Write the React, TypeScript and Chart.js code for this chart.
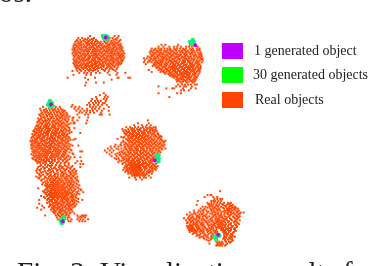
import React, { useEffect, useRef } from "react";
import { Chart, registerables } from "chart.js";

Chart.register(...registerables);

// Each row: [y, x, x, x ...], in picture units
const clusterA = [
  [33, 88, 113, 117], [35, 76, 80, 86, 92, 108, 111, 116],
  [37, 75, 78, 82, 85, 88, 91, 94, 104, 107, 112, 115, 119], [39, 73, 76, 79, 83, 86, 90, 93, 96, 99, 103, 106, 109, 113, 117],
  [41, 72, 75, 77, 81, 84, 87, 90, 92, 95, 98, 101, 105, 108, 110, 113, 116, 119], [43, 71, 74, 77, 79, 82, 85, 88, 91, 94, 97, 100, 103, 106, 108, 111, 114, 117, 120],
  [45, 71, 73, 76, 79, 81, 84, 87, 89, 92, 95, 98, 101, 104, 107, 109, 112, 115, 118, 121], [47, 70, 72, 75, 78, 80, 83, 86, 88, 91, 94, 96, 99, 102, 105, 108, 110, 112, 115, 118, 120],
  [49, 71, 74, 76, 79, 82, 85, 87, 90, 93, 95, 98, 101, 104, 106, 109, 111, 113, 116, 119, 122], [51, 70, 73, 75, 78, 81, 83, 86, 89, 92, 94, 97, 100, 103, 106, 108, 110, 113, 115, 118, 121, 123],
  [53, 71, 73, 76, 79, 82, 84, 87, 90, 92, 95, 98, 101, 104, 107, 109, 111, 114, 117, 119, 122], [55, 72, 75, 77, 80, 83, 86, 88, 91, 94, 96, 99, 102, 105, 108, 110, 112, 115, 118, 120, 123],
  [57, 71, 74, 77, 79, 82, 85, 87, 90, 93, 96, 98, 101, 104, 106, 109, 112, 114, 117, 120, 122], [59, 72, 75, 78, 81, 83, 86, 89, 92, 94, 97, 100, 103, 105, 108, 111, 113, 116, 119, 121],
  [61, 71, 73, 76, 79, 82, 85, 87, 90, 93, 95, 98, 101, 104, 107, 109, 112, 115, 118, 120], [63, 72, 75, 78, 80, 83, 86, 89, 91, 94, 97, 100, 102, 105, 108, 111, 114, 117],
  [65, 73, 76, 79, 82, 84, 87, 90, 93, 96, 99, 102, 106, 109, 113, 116], [67, 74, 77, 81, 85, 88, 92, 95, 100, 104, 108, 111, 115],
  [69, 70, 75, 79, 83, 87, 91, 96, 103, 107, 114], [71, 77, 82, 85, 89, 94, 98, 106, 116, 124], [73, 71, 84, 89, 108, 115],
  [76, 65, 83, 93, 116, 117, 127, 129], [78, 86, 110], [81, 94, 102, 84], [84, 83],
];
const fillA = [
  [36, 83, 90, 106, 114], [38, 74, 81, 87, 95, 102, 110, 118], [40, 78, 85, 89, 97, 104, 111, 115], [42, 73, 79, 86, 93, 99, 107, 112, 118], [44, 75, 83, 90, 96, 102, 105, 113, 119],
  [46, 72, 77, 85, 93, 100, 106, 111, 116, 120], [48, 73, 81, 84, 92, 97, 103, 107, 114, 121], [50, 72, 77, 86, 91, 99, 105, 110, 117], [52, 74, 80, 85, 93, 96, 102, 112, 116, 120],
  [54, 72, 78, 83, 88, 94, 100, 106, 110, 118, 121], [56, 76, 81, 87, 92, 97, 103, 111, 116, 119], [58, 73, 80, 84, 91, 99, 107, 110, 115, 121], [60, 74, 77, 88, 93, 96, 102, 112, 117],
  [62, 73, 81, 84, 92, 99, 106, 110, 116, 119], [64, 74, 77, 85, 88, 95, 101, 107, 112], [66, 75, 80, 83, 91, 97, 105, 110], [68, 78, 86, 89, 93, 102, 112],
];

const clusterB = [
  [42, 161, 165, 178, 190], [44, 158, 163, 169, 174, 177, 181, 186, 189, 192, 198],
  [46, 151, 155, 158, 161, 164, 167, 170, 174, 177, 180, 183, 186, 190, 193, 197, 200], [48, 150, 153, 156, 159, 161, 164, 167, 170, 172, 176, 179, 182, 185, 188, 191, 194, 197, 200],
  [50, 149, 152, 155, 158, 160, 163, 166, 168, 171, 174, 177, 180, 183, 186, 189, 192, 195, 198, 201], [52, 150, 153, 156, 159, 162, 164, 167, 170, 173, 176, 178, 181, 184, 187, 190, 193, 196, 199, 202],
  [54, 147, 151, 154, 157, 160, 162, 165, 168, 171, 174, 177, 179, 182, 185, 188, 191, 194, 197, 200, 202], [56, 143, 146, 150, 153, 155, 158, 161, 164, 166, 169, 172, 175, 178, 181, 184, 186, 189, 192, 195, 198, 201, 203],
  [58, 144, 148, 152, 155, 158, 160, 163, 166, 169, 171, 174, 177, 180, 183, 185, 188, 191, 194, 197, 200, 203], [60, 143, 147, 151, 154, 157, 160, 162, 165, 168, 171, 173, 176, 179, 182, 185, 188, 190, 193, 196, 199, 202],
  [62, 145, 153, 156, 159, 161, 164, 167, 170, 173, 175, 178, 181, 184, 187, 190, 192, 195, 198, 200], [64, 152, 155, 158, 161, 164, 166, 169, 172, 175, 177, 180, 183, 186, 189, 191, 194, 197, 201],
  [66, 156, 159, 162, 165, 168, 171, 174, 176, 179, 182, 185, 188, 190, 193, 196, 199, 201], [68, 148, 158, 161, 164, 167, 170, 173, 175, 178, 181, 184, 187, 190, 192, 195, 198, 200],
  [70, 151, 160, 163, 166, 169, 172, 175, 177, 180, 183, 186, 188, 191, 194, 197, 200], [72, 165, 168, 171, 174, 177, 180, 182, 185, 187, 190, 193, 196, 199],
  [74, 170, 173, 175, 178, 181, 184, 187, 189, 192, 195, 198], [76, 174, 177, 180, 183, 186, 188, 191, 194, 197], [78, 176, 179, 182, 184, 187, 190, 193, 196],
  [80, 177, 180, 183, 186, 189, 192, 195], [83, 178, 182, 185, 188, 191, 195, 197], [85, 158, 176, 180, 184, 186, 192], [87, 166, 172, 174, 183, 191, 196], [89, 181, 184, 189], [92, 158, 177, 181], [96, 169],
];
const fillB = [
  [47, 154, 160, 169, 175, 184, 192, 199], [49, 151, 157, 165, 173, 181, 187, 193], [51, 154, 161, 169, 175, 185, 191, 200], [53, 152, 158, 166, 172, 180, 186, 195, 201],
  [55, 149, 156, 163, 170, 176, 183, 190, 199], [57, 150, 154, 162, 167, 173, 179, 187, 193, 202], [59, 149, 156, 161, 170, 175, 184, 189, 198], [61, 155, 158, 166, 172, 177, 183, 191, 197],
  [63, 154, 160, 165, 174, 179, 185, 193, 199], [65, 157, 163, 170, 173, 181, 187, 192, 198], [67, 160, 166, 172, 177, 183, 189, 194, 200], [69, 162, 168, 174, 179, 185, 193, 198],
  [71, 164, 170, 176, 181, 184, 189, 195], [73, 169, 172, 179, 183, 188, 194], [75, 172, 176, 182, 185, 190, 196], [77, 178, 181, 189, 195], [79, 178, 185, 191, 194], [81, 181, 187, 193],
];

const clusterC = [
  [106, 40, 48, 53, 57], [108, 37, 43, 46, 49, 52, 55, 58], [110, 38, 41, 44, 47, 50, 53, 56, 59, 62], [112, 39, 42, 45, 48, 51, 54, 57, 60, 64],
  [114, 36, 40, 43, 46, 49, 52, 55, 58, 61, 65], [116, 38, 41, 44, 47, 50, 53, 56, 59, 62, 67], [118, 35, 38, 42, 45, 48, 51, 54, 57, 60, 63, 70],
  [120, 36, 39, 42, 44, 47, 50, 53, 56, 59, 63], [122, 34, 37, 40, 43, 46, 49, 52, 55, 58, 61, 64, 72], [124, 36, 39, 42, 44, 47, 50, 53, 56, 59, 62, 66],
  [126, 33, 35, 38, 41, 44, 46, 49, 52, 55, 58, 61, 64], [128, 32, 35, 37, 40, 43, 45, 48, 51, 53, 56, 59, 62, 67], [130, 31, 34, 36, 39, 42, 45, 47, 50, 53, 55, 58, 61, 64, 67],
  [132, 31, 33, 36, 38, 41, 44, 46, 49, 52, 54, 57, 60, 63, 69], [134, 29, 32, 35, 38, 40, 43, 45, 48, 51, 53, 56, 59, 62, 65], [136, 30, 33, 35, 37, 40, 42, 45, 48, 50, 53, 56, 58, 61, 64],
  [138, 28, 31, 34, 36, 39, 41, 44, 47, 49, 52, 55, 57, 60, 63, 67], [140, 29, 32, 34, 37, 39, 42, 44, 47, 50, 52, 55, 58, 60, 63, 68, 71], [142, 28, 30, 33, 35, 38, 41, 43, 46, 49, 51, 54, 56, 59, 62, 65],
  [144, 29, 31, 34, 36, 39, 42, 44, 47, 49, 52, 55, 57, 60, 63, 66], [146, 28, 30, 33, 36, 38, 41, 43, 46, 48, 51, 54, 56, 59, 62, 65, 70], [148, 29, 32, 34, 37, 39, 42, 45, 47, 50, 52, 55, 58, 61, 64],
  [150, 30, 33, 35, 38, 41, 43, 46, 48, 51, 54, 56, 59, 62, 65, 68], [152, 29, 32, 34, 37, 40, 42, 45, 47, 50, 53, 55, 58, 61, 64], [154, 31, 33, 36, 39, 41, 44, 46, 49, 52, 54, 57, 60, 63, 70],
  [156, 30, 33, 35, 38, 40, 43, 45, 48, 51, 53, 56, 59, 62, 65], [158, 31, 34, 37, 39, 42, 44, 47, 50, 52, 55, 58, 61, 64, 68], [160, 30, 33, 36, 38, 41, 44, 46, 49, 52, 55, 58, 62, 67],
  [162, 33, 35, 38, 41, 43, 46, 49, 52, 56, 60, 64], [164, 34, 37, 40, 43, 47, 50, 54, 58, 62, 66, 73],
];
const fillC = [
  [109, 41, 51, 60], [111, 43, 55, 61], [113, 38, 47, 58, 63], [115, 37, 44, 54, 60, 64], [117, 40, 49, 58, 65], [119, 37, 46, 55, 62, 66],
  [121, 35, 41, 51, 57, 65], [123, 38, 45, 54, 60, 68], [125, 34, 43, 51, 57, 64], [127, 37, 42, 50, 60, 66], [129, 33, 39, 47, 55, 63], [131, 30, 38, 44, 52, 59, 66],
  [133, 34, 42, 50, 55, 61, 67], [135, 31, 37, 44, 52, 60, 64], [137, 29, 36, 41, 49, 55, 62, 66], [139, 33, 38, 46, 51, 59, 65], [141, 27, 31, 40, 48, 53, 61, 66], [143, 32, 37, 45, 50, 58, 64],
  [145, 28, 35, 40, 48, 53, 61, 68], [147, 31, 35, 44, 49, 57, 63, 67], [149, 28, 36, 40, 47, 53, 60, 66], [151, 31, 39, 44, 52, 57, 63, 69], [153, 30, 35, 43, 48, 56, 62, 67], [155, 28, 37, 42, 50, 55, 61, 71],
  [157, 32, 36, 41, 49, 54, 60, 66], [159, 29, 35, 43, 48, 57, 63], [161, 32, 40, 45, 51, 60, 65], [163, 36, 42, 48, 55, 63],
];

const clusterStrip = [
  [92, 102], [94, 104, 98], [96, 94, 103, 106], [98, 90, 95, 102, 105], [100, 89, 93, 96, 99, 104], [102, 87, 91, 94, 97, 101, 103], [104, 70, 85, 88, 92, 96, 100, 105],
  [106, 69, 73, 77, 88, 91, 94, 98, 107], [108, 72, 76, 80, 85, 90, 93, 97, 102], [110, 74, 78, 82, 85, 88, 91, 95, 100, 107], [112, 77, 80, 84, 88, 92, 99], [114, 75, 83, 86, 98, 100, 108],
  [117, 71, 77, 86], [120, 70, 75, 85], [123, 71, 72, 84], [128, 72], [133, 78], [139, 73], [146, 76], [152, 78, 80], [158, 72, 78], [162, 75, 79], [165, 81, 78],
];

const clusterD = [
  [166, 38, 42, 45, 49, 53, 57, 62, 66], [168, 35, 40, 44, 48, 52, 56, 60, 65, 69, 78], [170, 34, 38, 41, 46, 49, 53, 57, 61, 64, 68, 72],
  [172, 33, 37, 42, 45, 50, 54, 58, 62, 66, 70, 74], [174, 34, 38, 43, 47, 51, 55, 59, 63, 67, 71], [176, 36, 40, 44, 48, 52, 55, 58, 61, 64, 68, 72],
  [178, 33, 37, 42, 46, 49, 52, 55, 58, 61, 64, 67, 71, 75], [180, 36, 41, 45, 48, 50, 53, 56, 59, 62, 65, 68, 73], [182, 38, 44, 47, 50, 52, 55, 57, 60, 63, 66, 69, 74],
  [184, 40, 45, 48, 50, 53, 55, 58, 61, 64, 66, 69, 72], [186, 39, 44, 47, 49, 52, 54, 57, 60, 62, 65, 68, 71, 75], [188, 43, 46, 48, 51, 53, 56, 58, 61, 64, 67, 70, 73],
  [190, 35, 44, 47, 49, 52, 54, 57, 59, 62, 65, 68, 71, 76], [192, 42, 45, 48, 50, 53, 55, 58, 60, 63, 66, 69, 72, 79], [194, 41, 44, 47, 49, 52, 54, 57, 59, 62, 64, 67, 70, 74, 81],
  [196, 43, 46, 48, 51, 53, 56, 58, 61, 63, 66, 69, 72, 77], [198, 38, 44, 47, 50, 52, 55, 57, 60, 62, 65, 68, 71], [200, 42, 46, 49, 51, 54, 56, 59, 61, 64, 67, 70, 74],
  [202, 36, 44, 47, 49, 52, 55, 58, 60, 63, 66, 69, 72, 80], [204, 46, 49, 52, 54, 57, 60, 62, 65, 68, 71, 76], [206, 36, 47, 50, 53, 56, 58, 61, 64, 67, 70, 74],
  [208, 39, 47, 50, 52, 55, 58, 60, 63, 66, 69, 73], [210, 34, 41, 49, 52, 54, 57, 60, 63, 66, 70], [212, 38, 48, 51, 54, 57, 60, 63, 66, 69],
  [214, 50, 53, 56, 59, 62, 65, 70], [216, 52, 55, 58, 61, 64, 67, 72], [218, 42, 53, 56, 59, 63, 66, 75, 80, 82, 84], [220, 54, 58, 62, 65, 67, 76, 79, 83],
  [222, 55, 65, 69, 75, 78, 81, 86], [224, 57, 66, 68, 77, 80, 83],
];
const fillD = [
  [167, 37, 47, 58, 63, 70], [169, 42, 51, 59, 67], [171, 36, 47, 55, 63, 71], [173, 40, 48, 60, 68, 73], [175, 36, 45, 53, 61, 69, 74], [177, 38, 47, 51, 60, 66, 70],
  [179, 35, 43, 54, 63, 69, 73], [181, 39, 47, 52, 57, 64, 70, 75], [183, 42, 49, 54, 59, 67, 71, 76], [185, 43, 51, 56, 62, 68, 74], [187, 42, 45, 50, 55, 59, 66, 70, 77],
  [189, 45, 50, 55, 60, 63, 69, 75], [191, 43, 48, 51, 56, 61, 67, 73, 78], [193, 40, 46, 52, 56, 62, 65, 71, 76], [195, 42, 48, 50, 55, 60, 65, 68, 75], [197, 45, 49, 54, 59, 64, 70, 74],
  [199, 41, 48, 53, 58, 63, 69, 73], [201, 45, 50, 55, 62, 65, 71, 76], [203, 48, 53, 59, 64, 70, 74], [205, 44, 51, 55, 61, 66, 72], [207, 48, 54, 59, 65, 68, 71], [209, 46, 51, 56, 62, 67, 72],
  [211, 50, 55, 59, 64, 68], [213, 52, 58, 61, 67], [215, 51, 57, 63, 68], [217, 55, 60, 64], [219, 57, 61, 78, 81],
];

const clusterE = [
  [120, 147], [123, 148, 137], [125, 133, 141, 146, 150], [127, 125, 129, 134, 137, 142, 145, 149, 153, 155], [129, 121, 127, 130, 133, 136, 139, 143, 146, 149, 152, 155],
  [131, 122, 125, 128, 131, 134, 137, 140, 143, 146, 149, 152, 156], [133, 123, 126, 129, 132, 135, 138, 141, 144, 147, 150, 153, 157], [135, 125, 128, 131, 133, 136, 139, 142, 145, 148, 151, 154, 158],
  [137, 120, 123, 127, 130, 132, 135, 138, 141, 144, 147, 150, 153, 156, 159, 161], [139, 116, 125, 128, 131, 134, 137, 140, 143, 145, 148, 151, 154, 157, 160],
  [141, 122, 127, 129, 132, 135, 138, 141, 144, 147, 150, 153, 156, 159, 162, 165], [143, 120, 124, 128, 131, 134, 137, 139, 142, 145, 148, 151, 154, 157, 160, 163],
  [145, 114, 119, 123, 126, 129, 132, 135, 138, 141, 144, 147, 149, 152, 155, 158, 161, 164], [147, 109, 113, 117, 124, 127, 130, 133, 136, 139, 142, 145, 148, 151, 154, 157, 160, 163],
  [149, 106, 110, 115, 120, 125, 128, 131, 134, 137, 140, 143, 146, 149, 152, 155, 158, 161, 165], [151, 103, 108, 112, 122, 126, 129, 132, 135, 137, 140, 143, 146, 149, 152, 155, 158],
  [153, 105, 110, 118, 121, 124, 127, 130, 133, 136, 139, 142, 145, 148, 151, 154, 157, 160], [155, 108, 114, 119, 122, 125, 128, 131, 134, 137, 140, 143, 146, 149, 152, 155],
  [157, 110, 115, 120, 124, 127, 130, 133, 136, 139, 142, 145, 148, 151, 154], [159, 113, 117, 121, 125, 128, 131, 134, 137, 140, 143, 146, 149, 152],
  [161, 118, 122, 125, 128, 131, 133, 136, 138, 141, 144, 147, 150, 153], [163, 117, 124, 127, 130, 132, 134, 137, 139, 142, 145, 148, 151, 155, 158],
  [165, 121, 125, 128, 130, 132, 134, 136, 138, 141, 143, 146, 149, 152, 155], [167, 124, 126, 129, 131, 133, 135, 137, 139, 142, 145, 148, 151, 154, 157],
  [169, 123, 127, 129, 131, 133, 135, 137, 140, 143, 146, 149, 152, 156], [171, 122, 125, 128, 130, 132, 134, 136, 138, 141, 144, 148, 152, 155],
  [173, 124, 127, 130, 132, 134, 136, 138, 140, 143, 146, 149, 152], [175, 127, 130, 132, 134, 136, 138, 140, 143, 146, 151], [177, 131, 133, 135, 137, 139, 142, 144, 148], [179, 128, 134, 139, 143, 145, 150], [181, 135, 141],
];
const fillE = [
  [128, 131, 140, 147, 151], [130, 124, 132, 138, 144, 150, 154], [132, 127, 133, 142, 148, 154], [134, 124, 130, 137, 143, 152, 157], [136, 127, 134, 140, 146, 155, 160], [138, 122, 129, 136, 142, 149, 158],
  [140, 126, 133, 139, 146, 152, 161], [142, 122, 130, 136, 143, 149, 155, 164], [144, 125, 133, 140, 146, 153, 159], [146, 120, 127, 131, 137, 143, 150, 156, 162], [148, 123, 129, 135, 141, 147, 153, 159],
  [150, 117, 124, 130, 136, 142, 150, 156, 162], [152, 120, 127, 133, 139, 144, 151, 159], [154, 116, 123, 129, 135, 141, 147, 153], [156, 118, 126, 132, 138, 144, 150, 156], [158, 122, 129, 135, 141, 147, 153],
  [160, 115, 123, 127, 133, 139, 145, 151], [162, 120, 126, 130, 136, 142, 149, 153], [164, 122, 129, 133, 138, 144, 150, 156], [166, 127, 131, 135, 140, 147, 153], [168, 125, 130, 134, 138, 144, 150, 155],
  [170, 126, 130, 134, 139, 145, 151, 154], [172, 126, 131, 135, 139, 147, 150], [174, 129, 133, 137, 142, 148], [176, 133, 136, 141, 145],
];

const clusterF = [
  [193, 221], [197, 208, 212, 211], [199, 205, 214, 218], [201, 215, 218, 221, 223], [203, 198, 212, 214, 216, 219, 222], [205, 208, 212, 215, 218, 221, 225, 229, 232],
  [207, 197, 209, 212, 214, 217, 220, 224, 228, 231, 234], [209, 203, 206, 210, 213, 216, 219, 222, 227, 230, 233, 236], [211, 201, 205, 211, 214, 217, 220, 225, 228, 230, 232, 236, 239],
  [213, 194, 199, 203, 207, 212, 215, 218, 221, 226, 228, 230, 233, 237, 240], [215, 190, 195, 198, 204, 208, 213, 216, 219, 222, 226, 229, 232, 235, 238, 242, 245], [217, 187, 192, 196, 200, 203, 207, 213, 216, 219, 222, 225, 229, 232, 236, 240],
  [219, 189, 193, 197, 200, 203, 206, 210, 214, 217, 220, 223, 226, 230, 234, 238, 241], [221, 184, 188, 191, 194, 197, 200, 203, 207, 212, 216, 218, 220, 224, 227, 231, 236, 239],
  [223, 186, 190, 193, 196, 199, 202, 205, 209, 213, 216, 218, 220, 222, 225, 228, 233, 237, 241], [225, 188, 191, 194, 197, 200, 203, 206, 210, 214, 217, 219, 221, 223, 226, 229, 235, 238],
  [227, 190, 193, 195, 198, 201, 204, 208, 212, 215, 218, 220, 222, 224, 227, 230, 236, 240], [229, 187, 189, 191, 193, 196, 199, 202, 205, 209, 213, 216, 219, 221, 223, 226, 229, 234, 238],
  [231, 188, 190, 192, 194, 197, 200, 203, 206, 210, 214, 217, 220, 222, 224, 227, 230, 232, 236], [233, 189, 191, 193, 195, 198, 201, 204, 207, 211, 214, 217, 222, 224, 226, 229, 232, 236],
  [235, 190, 194, 197, 200, 204, 208, 212, 215, 218, 224, 227, 230, 235], [237, 193, 197, 201, 205, 209, 213, 217, 225, 227, 229, 232], [239, 197, 200, 204, 208, 212, 225, 228, 231, 234],
  [241, 200, 204, 209, 213, 225, 227, 230, 233], [243, 207, 211, 226, 229, 233], [245, 217, 220, 223, 227, 230, 232], [247, 210, 219, 221, 224, 228], [249, 217, 219, 221, 223, 226],
];
const fillF = [
  [206, 210, 223, 230], [208, 211, 218, 226, 232], [210, 208, 215, 224, 234, 237], [212, 204, 212, 219, 229, 235], [214, 201, 209, 214, 224, 231, 239], [216, 194, 202, 211, 218, 228, 234, 241],
  [218, 190, 198, 205, 215, 221, 231, 238], [220, 192, 199, 208, 213, 222, 228, 235, 240], [222, 189, 195, 204, 211, 219, 226, 232, 238], [224, 192, 198, 207, 212, 218, 224, 230, 236],
  [226, 187, 196, 202, 208, 216, 222, 232, 239], [228, 191, 197, 203, 210, 214, 225, 232, 237], [230, 192, 198, 205, 212, 218, 226, 233, 238], [232, 193, 199, 208, 212, 223, 228, 235],
  [234, 192, 196, 202, 209, 216, 225, 231, 237], [236, 195, 203, 211, 216, 226, 234], [238, 199, 206, 214, 228, 233], [240, 202, 207, 212, 226, 232, 236], [242, 205, 212, 224, 231], [244, 209, 226, 234], [246, 218, 222, 231], [248, 218, 222, 227],
];

const realRows = [...clusterA, ...fillA, ...clusterB, ...fillB, ...clusterStrip, ...clusterC, ...fillC, ...clusterD, ...fillD, ...clusterE, ...fillE, ...clusterF, ...fillF];

const thirtyGenerated = [
  [101, 33], [104, 33], [106, 34], [103, 36], [105, 36], [102, 35], [190, 39], [192, 39], [194, 39], [192, 41], [193, 37],
  [46, 102], [49, 102], [45, 104], [47, 100], [50, 105], [47, 106], [58, 223], [61, 222], [60, 225], [61, 220], [59, 226],
  [156, 156], [158, 156], [156, 159], [158, 159], [156, 162], [158, 162], [216, 241], [218, 239], [217, 243], [220, 239], [215, 240],
];
const oneGenerated = [[104, 34.5], [195.5, 42.5], [48, 103.5], [60, 224], [154, 161], [219, 238]];

const legendLabels = ["1 generated object", "30 generated objects", "Real objects"];
const legendColors = ["#c000ff", "#00ff00", "#ff4500"];
const legendY = [51, 75, 100];
const legendTextX = [254, 253, 255];
const caption = "Fig. 2: Visualization results for";
const captionAbove = "tos.";

const overlay = {
  id: "overlay",
  afterDraw(chart: any) {
    const ctx = chart.ctx;
    ctx.save();
    ctx.textBaseline = "middle";
    legendLabels.forEach((t, i) => {
      ctx.fillStyle = legendColors[i];
      ctx.fillRect(222, legendY[i] - 8, 21, 16);
      ctx.fillStyle = "#222";
      ctx.font = "14px 'Liberation Serif'";
      ctx.fillText(t, legendTextX[i], legendY[i]);
    });
    ctx.textBaseline = "alphabetic";
    ctx.fillStyle = "#222";
    ctx.font = "29px 'Liberation Serif'";
    ctx.fillText(caption, 17, 282);
    ctx.fillText(captionAbove, -9, 2);
    ctx.restore();
  },
};

export default function App() {
  const ref = useRef<HTMLCanvasElement>(null);
  useEffect(() => {
    document.body.style.margin = "0";
    const real = realRows.flatMap(([y, ...xs]) => xs.map((x) => ({ x, y })));
    const toPts = (a: number[][]) => a.map(([x, y]) => ({ x, y }));
    const chart = new Chart(ref.current!, {
      type: "scatter",
      data: {
        datasets: [
          { label: legendLabels[0], data: toPts(oneGenerated), backgroundColor: "#c000e0", pointRadius: 2, pointStyle: "circle", borderWidth: 0 },
          { label: legendLabels[1], data: toPts(thirtyGenerated), backgroundColor: "#14f07a", pointRadius: 2.2, pointStyle: "circle", borderWidth: 0 },
          { label: legendLabels[2], data: real, backgroundColor: "#ff4500", pointRadius: 1.41, pointStyle: "rect", borderWidth: 0 },
        ],
      },
      options: {
        animation: false,
        responsive: false,
        layout: { padding: 0 },
        plugins: { legend: { display: false }, tooltip: { enabled: false } },
        scales: {
          x: { type: "linear", display: false, min: 0, max: 368 },
          y: { type: "linear", display: false, min: 0, max: 266, reverse: true },
        },
      },
      plugins: [overlay],
    });
    return () => chart.destroy();
  }, []);
  return <canvas ref={ref} width={368} height={266} style={{ display: "block" }} />;
}
